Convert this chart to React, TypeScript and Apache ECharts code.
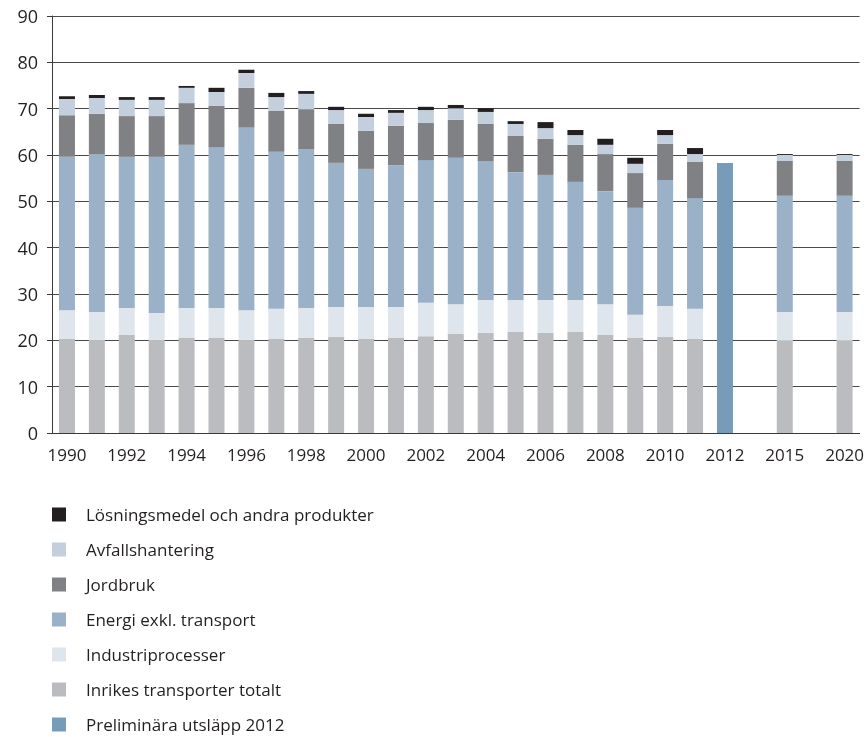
import React, { useEffect, useRef } from "react";
import * as echarts from "echarts";

const years = [
  "1990", "1991", "1992", "1993", "1994", "1995", "1996", "1997", "1998", "1999",
  "2000", "2001", "2002", "2003", "2004", "2005", "2006", "2007", "2008", "2009",
  "2010", "2011", "2012", "", "2015", "", "2020",
];

const yTicks = [0, 10, 20, 30, 40, 50, 60, 70, 80, 90];

const transport = [20.3, 20.1, 21.2, 20.1, 20.5, 20.5, 20.1, 20.3, 20.5, 20.7, 20.3, 20.5, 20.9, 21.4, 21.6, 21.8, 21.6, 21.8, 21.2, 20.5, 20.7, 20.3, null, null, 19.9, null, 19.9];
const industri = [6.2, 6.0, 5.8, 5.8, 6.5, 6.5, 6.4, 6.5, 6.5, 6.5, 6.9, 6.7, 7.2, 6.4, 7.1, 6.9, 7.1, 6.9, 6.6, 5.0, 6.7, 6.5, null, null, 6.2, null, 6.2];
const energi = [33.1, 34.1, 32.6, 33.7, 35.2, 34.7, 39.4, 33.9, 34.3, 31.1, 29.8, 30.6, 30.8, 31.6, 30.0, 27.6, 27.0, 25.5, 24.4, 23.1, 27.2, 23.9, null, null, 25.1, null, 25.1];
const jordbruk = [9.0, 8.7, 8.8, 8.8, 9.0, 8.9, 8.6, 8.8, 8.6, 8.4, 8.2, 8.5, 8.0, 8.2, 8.0, 7.8, 7.8, 8.0, 8.0, 7.5, 7.8, 7.8, null, null, 7.5, null, 7.5];
const avfall = [3.5, 3.4, 3.5, 3.5, 3.3, 3.0, 3.2, 3.0, 3.3, 3.0, 3.0, 2.8, 2.8, 2.5, 2.6, 2.6, 2.3, 2.1, 2.0, 2.0, 1.9, 1.7, null, null, 1.3, null, 1.3];
const losning = [0.6, 0.65, 0.6, 0.6, 0.4, 0.9, 0.7, 0.9, 0.6, 0.7, 0.7, 0.6, 0.7, 0.7, 0.8, 0.6, 1.3, 1.1, 1.3, 1.3, 1.1, 1.3, null, null, 0.2, null, 0.2];
const preliminar = [null, null, null, null, null, null, null, null, null, null, null, null, null, null, null, null, null, null, null, null, null, null, 58.3, null, null, null, null];

const seriesNames = {
  losning: "Lösningsmedel och andra produkter",
  avfall: "Avfallshantering",
  jordbruk: "Jordbruk",
  energi: "Energi exkl. transport",
  industri: "Industriprocesser",
  transport: "Inrikes transporter totalt",
  prelim: "Preliminära utsläpp 2012",
};

const FONT = "'Open Sans', sans-serif";
const TEXT = "#231f20";

export default function App() {
  const ref = useRef<HTMLDivElement>(null);
  useEffect(() => {
    if (!ref.current) return;
    const chart = echarts.init(ref.current, null, { renderer: "svg" });
    const mk = (name: string, data: (number | null)[], color: string) => ({
      name,
      type: "bar",
      stack: "total",
      data,
      barWidth: 16,
      itemStyle: { color },
      emphasis: { disabled: true },
    });
    chart.setOption({
      animation: false,
      textStyle: { fontFamily: FONT },
      grid: { left: 52, right: 5, top: 16, bottom: 304, containLabel: false },
      legend: {
        orient: "vertical",
        left: 52,
        top: 506,
        height: 228,
        padding: 0,
        icon: "rect",
        itemWidth: 14,
        itemHeight: 14,
        itemGap: 18,
        selectedMode: false,
        textStyle: { fontSize: 17, color: TEXT, fontFamily: FONT, padding: [0, 0, 0, 15] },
        data: [
          seriesNames.losning,
          seriesNames.avfall,
          seriesNames.jordbruk,
          seriesNames.energi,
          seriesNames.industri,
          seriesNames.transport,
          seriesNames.prelim,
        ],
      },
      xAxis: {
        type: "category",
        data: years,
        boundaryGap: true,
        axisLine: { lineStyle: { color: "#3a3a3a", width: 1 } },
        axisTick: { interval: 0, length: 5, lineStyle: { color: "#3a3a3a" } },
        axisLabel: { interval: 1, fontSize: 17, color: TEXT, margin: 13, fontFamily: FONT },
      },
      yAxis: {
        type: "value",
        min: yTicks[0],
        max: yTicks[yTicks.length - 1],
        interval: 10,
        axisLine: { show: true, lineStyle: { color: "#3a3a3a", width: 1 } },
        axisTick: { show: true, length: 5, lineStyle: { color: "#3a3a3a" } },
        axisLabel: { fontSize: 18, color: TEXT, margin: 14, fontFamily: FONT },
        splitLine: { lineStyle: { color: "#4a4a4a", width: 1.2 } },
      },
      series: [
        mk(seriesNames.transport, transport, "#bbbcc0"),
        mk(seriesNames.industri, industri, "#dfe5ed"),
        mk(seriesNames.energi, energi, "#9bb1c8"),
        mk(seriesNames.jordbruk, jordbruk, "#808184"),
        mk(seriesNames.avfall, avfall, "#c3cfdd"),
        mk(seriesNames.losning, losning, "#231f20"),
        mk(seriesNames.prelim, preliminar, "#779cb9"),
      ],
    });
    return () => chart.dispose();
  }, []);
  return (
    <div
      ref={ref}
      style={{ position: "fixed", left: 0, top: 0, width: 867, height: 737 }}
    />
  );
}
